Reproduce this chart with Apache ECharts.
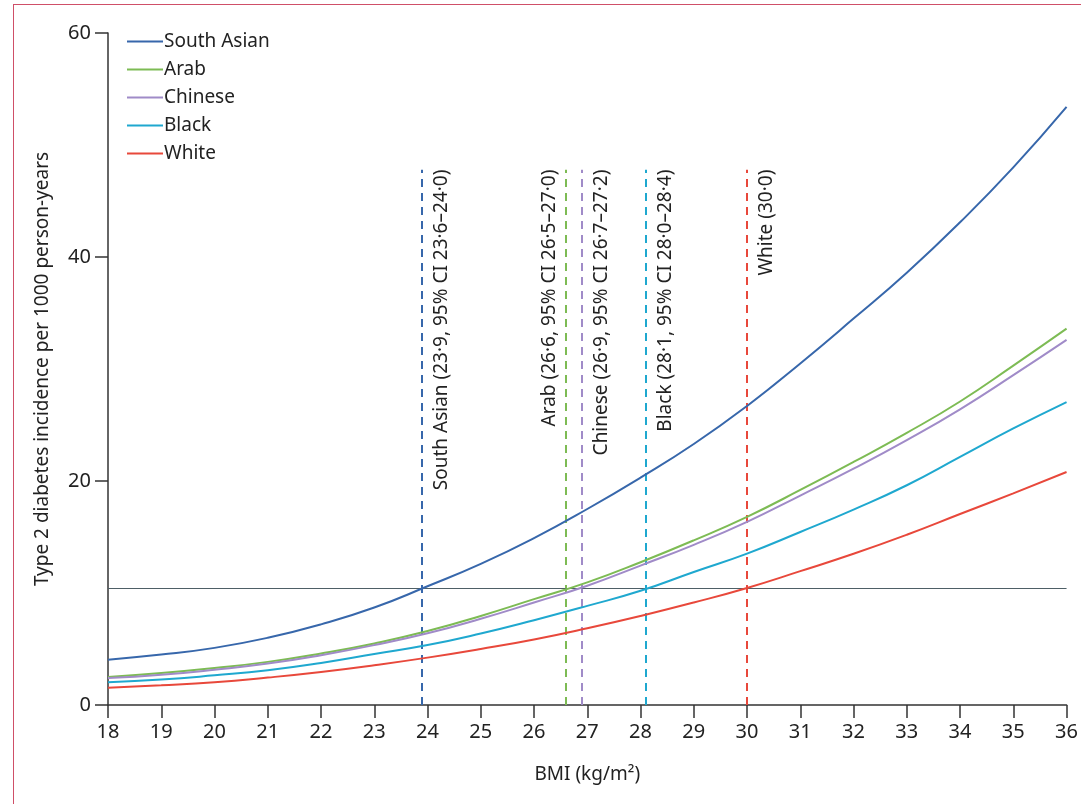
<!DOCTYPE html>
<html>
<head>
<meta charset="utf-8">
<script src="https://cdn.jsdelivr.net/npm/echarts@6/dist/echarts.min.js"></script>
<style>
  html, body { margin: 0; padding: 0; background: #fff; }
  #wrap { position: relative; width: 1081px; height: 804px; overflow: hidden; }
  #frame { position: absolute; left: 13px; top: 4px; width: 1100px; height: 820px;
           border-left: 1px solid #cf4f68; border-top: 1px solid #cf4f68; }
  #chart { position: absolute; left: 0; top: 0; width: 1081px; height: 804px; }
</style>
</head>
<body>
<div id="wrap">
  <div id="frame"></div>
  <div id="chart"></div>
</div>
<script>
// BMI values on the x axis
const bmi = [18, 19, 20, 21, 22, 23, 24, 25, 26, 27, 28, 29, 30, 31, 32, 33, 34, 35, 36];

// incidence per 1000 person-years
const southAsian = [4.05, 4.5, 5.1, 6.0, 7.2, 8.7, 10.6, 12.6, 14.9, 17.5, 20.3, 23.3, 26.7, 30.5, 34.5, 38.6, 43.1, 48.0, 53.4];
const arab = [2.5, 2.85, 3.3, 3.85, 4.6, 5.5, 6.6, 7.95, 9.45, 10.95, 12.75, 14.7, 16.8, 19.2, 21.7, 24.3, 27.1, 30.3, 33.6];
const chinese = [2.4, 2.7, 3.15, 3.7, 4.45, 5.35, 6.4, 7.7, 9.15, 10.65, 12.45, 14.3, 16.35, 18.7, 21.1, 23.65, 26.4, 29.45, 32.6];
const black = [2.03, 2.27, 2.65, 3.1, 3.75, 4.55, 5.35, 6.38, 7.57, 8.85, 10.2, 11.88, 13.52, 15.45, 17.45, 19.62, 22.15, 24.69, 27.05];
const white = [1.55, 1.76, 2.03, 2.45, 2.95, 3.55, 4.23, 5.0, 5.85, 6.85, 7.95, 9.15, 10.45, 11.95, 13.5, 15.2, 17.05, 18.9, 20.8];

// equivalent BMI cut-offs and their labels
const groups = ["South Asian", "Arab", "Chinese", "Black", "White"];
const cutoffs = [23.9, 26.6, 26.9, 28.1, 30.0];
const cutoffLabels = [
  "South Asian (23·9, 95% CI 23·6–24·0)",
  "Arab (26·6, 95% CI 26·5–27·0)",
  "Chinese (26·9, 95% CI 26·7–27·2)",
  "Black (28·1, 95% CI 28·0–28·4)",
  "White (30·0)"
];
const referenceIncidence = 10.4;
const cutoffTop = 47.8;

const colors = ["#3767ab", "#7dbb54", "#a08bc8", "#1fa8cf", "#e8483b"];
const seriesValues = [southAsian, arab, chinese, black, white];

const font = "Noto Sans";
const chart = echarts.init(document.getElementById("chart"));

const series = seriesValues.map((vals, i) => {
  // the Arab label sits on the left of its line, the rest on the right
  const leftSide = i === 1;
  const markData = [
    [
      { coord: [cutoffs[i], 0] },
      {
        coord: [cutoffs[i], cutoffTop],
        label: {
          show: true,
          formatter: cutoffLabels[i],
          position: leftSide ? "insideEndTop" : "insideEndBottom",
          distance: [0, leftSide ? 7 : 10],
          color: "#222",
          fontSize: 19,
          fontFamily: font
        }
      }
    ]
  ];
  if (i === 4) {
    markData.push({
      yAxis: referenceIncidence,
      lineStyle: { color: "#4e5f66", type: "solid", width: 1.2 },
      label: { show: false }
    });
  }
  return {
    name: groups[i],
    type: "line",
    smooth: true,
    showSymbol: false,
    data: bmi.map((b, k) => [b, vals[k]]),
    lineStyle: { width: 2, color: colors[i] },
    itemStyle: { color: colors[i] },
    z: 5,
    markLine: {
      silent: true,
      symbol: ["none", "none"],
      animation: false,
      lineStyle: { color: colors[i], type: [8, 6], width: 2 },
      data: markData
    }
  };
});

chart.setOption({
  animation: false,
  color: colors,
  textStyle: { fontFamily: font },
  grid: { left: 108, right: 6, top: 33, bottom: 99, containLabel: false },
  legend: {
    orient: "vertical",
    left: 122,
    top: 27,
    itemGap: 9,
    itemWidth: 36,
    itemHeight: 2,
    icon: "rect",
    textStyle: { fontSize: 19, color: "#222", fontFamily: font, padding: [0, 0, 0, -4] },
    data: groups
  },
  xAxis: {
    type: "value",
    min: 18,
    max: 36,
    interval: 1,
    name: "BMI (kg/m²)",
    nameLocation: "middle",
    nameGap: 60,
    nameTextStyle: { fontSize: 19, color: "#222", fontFamily: font },
    axisLine: { lineStyle: { color: "#333", width: 1.5 } },
    axisTick: { length: 13, lineStyle: { color: "#333", width: 1.5 } },
    axisLabel: { fontSize: 20, color: "#222", margin: 17, fontFamily: font },
    splitLine: { show: false }
  },
  yAxis: {
    type: "value",
    min: 0,
    max: 60,
    interval: 20,
    name: "Type 2 diabetes incidence per 1000 person-years",
    nameLocation: "middle",
    nameGap: 56,
    nameTextStyle: { fontSize: 19, color: "#222", fontFamily: font },
    axisLine: { show: true, lineStyle: { color: "#333", width: 1.5 } },
    axisTick: { show: true, length: 13, lineStyle: { color: "#333", width: 1.5 } },
    axisLabel: { fontSize: 20, color: "#222", margin: 17, fontFamily: font },
    splitLine: { show: false }
  },
  series: series
});
</script>
</body>
</html>
